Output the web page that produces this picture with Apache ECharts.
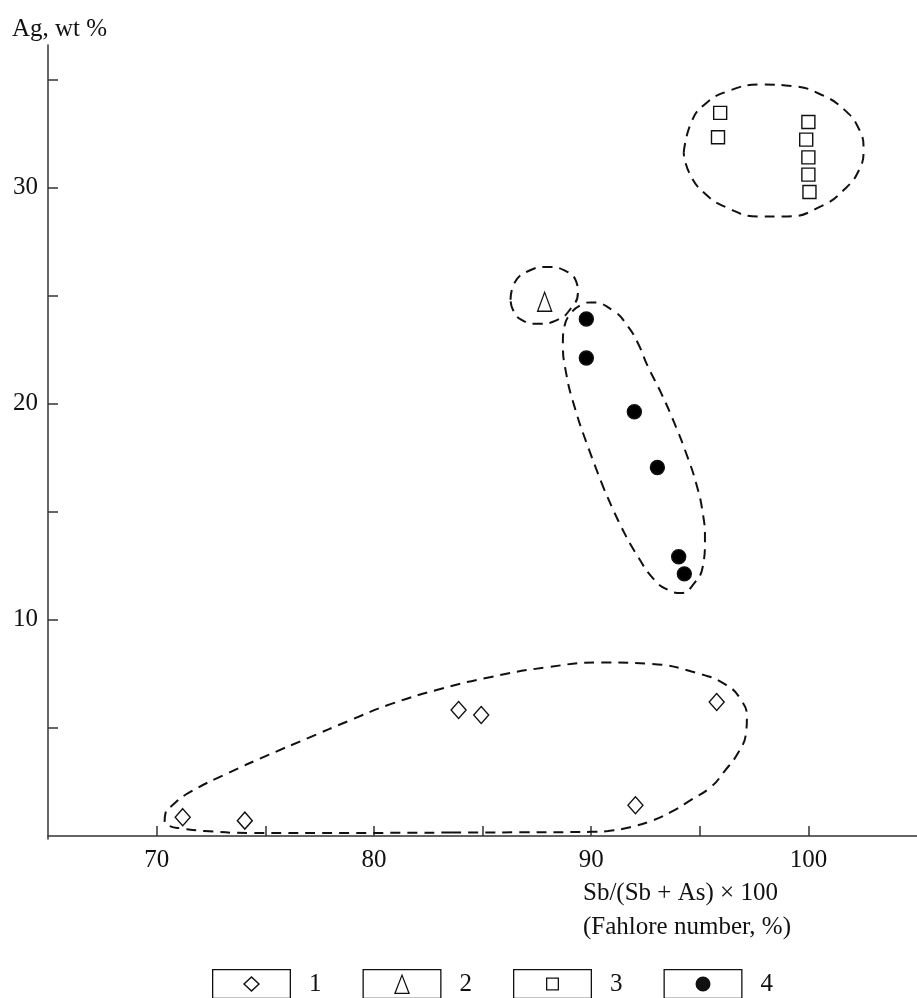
<!DOCTYPE html>
<html>
<head>
<meta charset="utf-8">
<title>Ag vs Fahlore number</title>
<script src="https://cdn.jsdelivr.net/npm/echarts@6/dist/echarts.min.js"></script>
<style>
    html, body {margin: 0; padding: 0; background: #fff;}
    #chart {width: 917px; height: 998px;}
</style>
</head>
<body>
<div id="chart"></div>
<script>
// [Sb/(Sb+As)*100, Ag wt%]
var group1 = [[71.2,0.87],[74.06,0.71],[83.9,5.83],[84.94,5.6],[92.04,1.42],[95.78,6.2]];
var group2 = [[87.86,24.72]];
var group3 = [[95.94,33.46],[95.84,32.33],[100,33.04],[99.9,32.22],[100,31.4],[100,30.6],[100.05,29.8]];
var group4 = [[89.78,23.92],[89.78,22.12],[91.99,19.63],[93.05,17.05],[94.03,12.92],[94.29,12.13]];

// dashed field outlines (each starts on a flat stretch so the join does not show)
var field1 = [[83.56,0.16],[78.97,0.14],[74.37,0.14],[72.21,0.23],[71.15,0.35],[70.6,0.46],[70.37,0.69],
    [70.41,1.06],[70.69,1.39],[71.47,1.99],[73.31,2.92],[75.15,3.75],[76.99,4.54],[78.83,5.32],[80.8,6.11],
    [83.1,6.81],[85.4,7.36],[87.93,7.8],[90.46,8.03],[92.76,7.96],[94.83,7.55],[96.21,6.99],[96.9,6.3],
    [97.17,5.51],[97.13,4.77],[96.76,3.84],[96.11,2.96],[95.52,2.27],[94.6,1.67],[93.68,1.11],[92.76,0.69],
    [91.84,0.42],[90.78,0.23],[90.0,0.19],[86.8,0.17],[83.56,0.16]];
var field2 = [[86.29,24.81],[86.47,25.59],[87.09,26.13],[88.01,26.33],[88.77,26.17],[89.31,25.66],[89.39,25.13],
    [89.08,24.43],[88.47,23.89],[87.55,23.7],[86.78,23.89],[86.4,24.35],[86.29,24.81]];
var field3 = [[94.26,31.61],[94.6,33.0],[95.21,33.84],[96.29,34.46],[97.82,34.77],[99.35,34.69],[100.57,34.31],
    [101.65,33.61],[102.34,32.69],[102.54,31.76],[102.34,30.83],[101.65,29.91],[100.57,29.13],[99.04,28.67],
    [97.66,28.67],[96.29,29.06],[95.21,29.75],[94.52,30.68],[94.26,31.61]];
var field4 = [[90.61,16.02],[89.85,18.02],[89.23,19.88],[88.85,21.42],[88.7,22.81],[88.77,23.58],[89.08,24.2],
    [89.54,24.58],[90.0,24.69],[91.07,24.27],[91.69,23.58],[92.15,22.81],[92.61,21.73],[93.22,20.5],[93.83,19.11],
    [94.37,17.72],[94.83,16.33],[95.14,14.94],[95.24,13.7],[95.14,12.47],[94.75,11.7],[94.14,11.24],[93.53,11.39],
    [92.91,11.85],[92.15,12.93],[91.38,14.32],[90.61,16.02]];

var xTicks = [70,75,80,85,90,95,100];
var xLabels = [70,80,90,100];
var yTicks = [5,10,15,20,25,30,35];
var yLabels = [10,20,30];
var groupNames = ['1','2','3','4'];

var serif = "'Liberation Serif', 'DejaVu Serif', serif";
var ink = '#111';
var axisColor = '#333';

// legend icons: open box with the marker inside
var box = 'M0,0 H79 V30 H0 Z M1.3,1.3 V28.7 H77.7 V1.3 Z ';
var icons = [
    box + 'M39.5,7 L48,15 L39.5,23 L31,15 Z M39.5,8.9 L33,15 L39.5,21.1 L46,15 Z',
    box + 'M39.5,4.5 L47.5,25 L31.5,25 Z M39.5,7.8 L33.4,23.7 L45.6,23.7 Z',
    box + 'M33,8.5 H46 V21.5 H33 Z M34.3,9.8 V20.2 H44.7 V9.8 Z',
    box + 'M32,15 A7.5,7.5 0 1,1 47,15 A7.5,7.5 0 1,1 32,15 Z'
];

function outline(data){
    return {
        type: 'line',
        data: data,
        smooth: 0.5,
        symbol: 'none',
        silent: true,
        lineStyle: {color: ink, width: 2, type: [10, 7]},
        z: 1
    };
}

function points(name, data, symbol, size, fill){
    return {
        name: name,
        type: 'scatter',
        data: data,
        symbol: symbol,
        symbolSize: size,
        itemStyle: {color: fill, borderColor: ink, borderWidth: 1.4, opacity: 1},
        z: 3
    };
}

var option = {
    animation: false,
    backgroundColor: '#fff',
    title: [
        {
            text: 'Ag, wt %',
            left: 12, top: 15, padding: 0,
            textStyle: {fontFamily: serif, fontSize: 25, fontWeight: 'normal', color: ink, lineHeight: 28}
        },
        {
            text: 'Sb/(Sb + As) × 100\n(Fahlore number, %)',
            left: 583, top: 876, padding: 0,
            textStyle: {fontFamily: serif, fontSize: 25, fontWeight: 'normal', color: ink, lineHeight: 34}
        }
    ],
    legend: {
        data: groupNames.map(function (n, i) { return {name: n, icon: 'path://' + icons[i]}; }),
        left: 212, top: 969, padding: 0,
        itemWidth: 79, itemHeight: 30, itemGap: 41,
        selectedMode: false,
        itemStyle: {color: ink, borderWidth: 0},
        textStyle: {fontFamily: serif, fontSize: 25, color: ink, padding: [0, 0, 0, 13]}
    },
    grid: {left: 48, right: 0, top: 45, bottom: 159},
    xAxis: {
        type: 'value',
        min: 65, max: 105,
        splitLine: {show: false},
        axisLine: {lineStyle: {color: axisColor, width: 1.5}},
        axisTick: {inside: true, length: 10, customValues: xTicks, lineStyle: {color: axisColor, width: 1.5}},
        axisLabel: {customValues: xLabels, margin: 9, fontFamily: serif, fontSize: 25, color: ink}
    },
    yAxis: {
        type: 'value',
        min: -0.14, max: 36.6,
        splitLine: {show: false},
        axisLine: {show: true, lineStyle: {color: axisColor, width: 1.5}},
        axisTick: {show: true, inside: true, length: 10, customValues: yTicks, lineStyle: {color: axisColor, width: 1.5}},
        axisLabel: {customValues: yLabels, margin: 10, fontFamily: serif, fontSize: 25, color: ink}
    },
    series: [
        outline(field1),
        outline(field2),
        outline(field3),
        outline(field4),
        points('1', group1, 'diamond', [15, 17], '#fff'),
        points('2', group2, 'triangle', [14, 19], '#fff'),
        points('3', group3, 'rect', 13, '#fff'),
        points('4', group4, 'circle', 14, '#000')
    ]
};

var myChart = echarts.init(document.getElementById('chart'));
myChart.setOption(option);
</script>
</body>
</html>
